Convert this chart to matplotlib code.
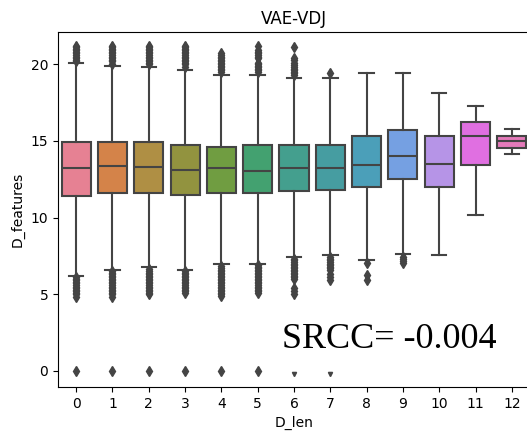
import matplotlib
matplotlib.use("Agg")
import matplotlib.pyplot as plt
import seaborn as sns

# category labels on the x axis
d_len = [0, 1, 2, 3, 4, 5, 6, 7, 8, 9, 10, 11, 12]

# box summaries
q1 = [11.4, 11.6, 11.6, 11.5, 11.6, 11.6, 11.75, 11.8, 12.0, 12.5, 12.0, 13.45, 14.55]
med = [13.2, 13.35, 13.3, 13.1, 13.2, 13.05, 13.2, 13.25, 13.4, 14.0, 13.5, 15.3, 15.0]
q3 = [14.9, 14.9, 14.9, 14.75, 14.6, 14.7, 14.7, 14.7, 15.3, 15.7, 15.3, 16.2, 15.35]
whis_lo = [6.2, 6.6, 6.75, 6.6, 6.95, 7.0, 7.4, 7.55, 7.25, 7.65, 7.55, 10.15, 14.15]
whis_hi = [20.1, 19.9, 19.85, 19.6, 19.3, 19.3, 19.1, 19.1, 19.4, 19.4, 18.15, 17.3, 15.75]

# outliers per category
fliers = [
    [21.2, 21.1, 21.0, 20.9, 20.8, 20.7, 20.6, 20.5, 20.4, 20.3, 20.2,
     6.1, 6.0, 5.9, 5.8, 5.7, 5.6, 5.5, 5.4, 5.3, 5.2, 5.1, 5.0, 4.85, 0.0],
    [21.2, 21.1, 21.0, 20.9, 20.8, 20.7, 20.6, 20.5, 20.4, 20.3, 20.2, 20.0,
     6.5, 6.4, 6.3, 6.2, 6.1, 6.0, 5.9, 5.8, 5.7, 5.6, 5.5, 5.4, 5.3, 5.2, 5.1, 5.0, 4.85, 0.0],
    [21.2, 21.1, 21.0, 20.9, 20.8, 20.7, 20.6, 20.5, 20.4, 20.3, 20.2, 20.1, 20.0,
     6.65, 6.5, 6.4, 6.3, 6.2, 6.1, 6.0, 5.9, 5.8, 5.7, 5.6, 5.5, 5.4, 5.3, 5.2, 5.1, 5.0, 0.0],
    [21.2, 21.1, 21.0, 20.9, 20.8, 20.7, 20.6, 20.5, 20.4, 20.3, 20.2, 20.1, 20.0, 19.8,
     6.5, 6.4, 6.3, 6.2, 6.1, 6.0, 5.9, 5.8, 5.7, 5.6, 5.5, 5.4, 5.3, 5.2, 5.1, 0.0],
    [20.75, 20.6, 20.5, 20.4, 20.3, 20.2, 20.1, 20.0, 19.9, 19.8, 19.7, 19.6, 19.5,
     6.85, 6.7, 6.6, 6.5, 6.4, 6.3, 6.2, 6.1, 6.0, 5.9, 5.8, 5.7, 5.6, 5.5, 5.4, 5.3, 5.2, 5.1, 5.0, 4.9, 0.0],
    [21.2, 20.9, 20.8, 20.7, 20.6, 20.5, 20.4, 20.1, 20.0, 19.9, 19.8, 19.7, 19.6, 19.5,
     6.9, 6.8, 6.7, 6.6, 6.5, 6.4, 6.3, 6.2, 6.1, 6.0, 5.9, 5.8, 5.7, 5.6, 5.5, 5.4, 5.3, 5.2, 5.1, 0.0],
    [21.1, 20.4, 20.25, 20.1, 19.95, 19.8, 19.7, 19.6, 19.5, 19.4, 19.3,
     7.3, 7.2, 7.1, 7.0, 6.9, 6.8, 6.7, 6.6, 6.5, 6.4, 6.3, 6.2, 6.1, 6.0, 5.4, 5.2, 5.0],
    [19.45,
     7.4, 7.3, 7.2, 7.1, 7.0, 6.9, 6.8, 6.7, 6.6, 6.3, 6.1, 5.9],
    [7.05, 6.25, 5.95],
    [7.45, 7.3, 7.15, 7.05],
    [],
    [],
    [],
]

# faint marks just below zero for 6 and 7
low_x = [6, 7]
low_y = [-0.2, -0.2]

srcc_text = "SRCC= -0.004"

fig = plt.figure(figsize=(5.27, 4.32), dpi=100)
ax = fig.add_axes([58 / 527, 45 / 432, 472 / 527, 355 / 432])

stats = []
for i in range(len(d_len)):
    stats.append({"med": med[i], "q1": q1[i], "q3": q3[i],
                  "whislo": whis_lo[i], "whishi": whis_hi[i],
                  "fliers": fliers[i], "label": str(d_len[i])})

pal = sns.color_palette("husl", len(d_len))
colors = [sns.desaturate(c, 0.75) for c in pal]
gray = "#444444"

bp = ax.bxp(stats, positions=range(len(d_len)), widths=0.8, patch_artist=True,
            boxprops=dict(edgecolor=gray, linewidth=1.5),
            whiskerprops=dict(color=gray, linewidth=1.5),
            capprops=dict(color=gray, linewidth=1.5),
            medianprops=dict(color=gray, linewidth=1.5),
            flierprops=dict(marker="d", markerfacecolor=gray, markeredgecolor=gray,
                            markersize=5, linestyle="none"))
for patch, c in zip(bp["boxes"], colors):
    patch.set_facecolor(c)

ax.plot(low_x, low_y, linestyle="none", marker="v", markersize=3, color=gray)

ax.set_xlim(-0.5, len(d_len) - 0.5)
ax.set_ylim(-1.05, 22.1)
ax.set_xticks(range(len(d_len)))
ax.set_xticklabels([str(v) for v in d_len])
ax.set_yticks([0, 5, 10, 15, 20])
ax.set_xlabel("D_len")
ax.set_ylabel("D_features")
ax.set_title("VAE-VDJ")

fig.text(282 / 527, (432 - 348) / 432, srcc_text, family="Liberation Serif",
         fontsize=26, ha="left", va="baseline")

fig.savefig("out.png", dpi=100)
